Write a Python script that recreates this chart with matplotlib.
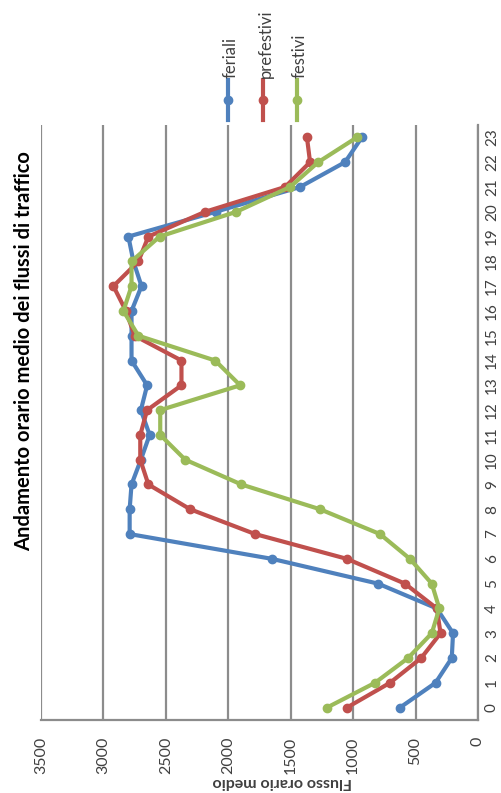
import matplotlib.pyplot as plt
from matplotlib.lines import Line2D

plt.rcParams['font.family'] = ['Lato', 'DejaVu Sans']

# hourly average flows
hours = list(range(24))
feriali = [625, 340, 210, 200, 330, 800, 1650, 2790, 2790, 2775, 2700, 2630,
           2700, 2650, 2775, 2775, 2775, 2695, 2760, 2800, 2100, 1425, 1065, 930]
prefestivi = [1050, 705, 455, 300, 330, 585, 1050, 1785, 2305, 2640, 2705, 2705,
              2650, 2375, 2375, 2750, 2820, 2920, 2720, 2640, 2185, 1545, 1345, 1370]
festivi = [1210, 825, 560, 370, 310, 370, 545, 785, 1265, 1895, 2345, 2545,
           2545, 1905, 2105, 2720, 2840, 2775, 2775, 2550, 1935, 1505, 1280, 970]
value_ticks = [0, 500, 1000, 1500, 2000, 2500, 3000, 3500]

series = [("feriali", feriali, "#4F81BD"),
          ("prefestivi", prefestivi, "#C0504D"),
          ("festivi", festivi, "#9BBB59")]

fig = plt.figure(figsize=(5.02, 7.93), dpi=100)
ax = fig.add_axes([41 / 502, 1 - 720 / 793, 437 / 502, 595 / 793])

# chart is drawn turned a quarter turn: values run right-to-left, hours bottom-to-top
for name, vals, col in series:
    ax.plot(vals, hours, color=col, lw=3, marker='o', ms=6, zorder=3)

ax.set_xlim(3500, 0)
ax.set_ylim(-0.5, 23.5)
ax.set_xticks(value_ticks)
ax.set_xticklabels([str(v) for v in value_ticks], rotation=90, va='top')
ax.set_yticks(hours)
ax.set_yticklabels([str(h) for h in hours], rotation=90, va='center')
ax.yaxis.tick_right()
ax.tick_params(axis='x', length=0, pad=12, labelsize=11.5, labelcolor='#404040')
ax.tick_params(axis='y', length=0, pad=5, labelsize=11, labelcolor='#404040')
ax.grid(axis='x', color='#8c8c8c', lw=1.6)
ax.set_axisbelow(True)
for s in ['top', 'left']:
    ax.spines[s].set_visible(False)
for s in ['bottom', 'right']:
    ax.spines[s].set_color('#8c8c8c')
    ax.spines[s].set_linewidth(1.6)

fig.text(282 / 502, 1 - 782 / 793, "Flusso orario medio", rotation=180,
         ha='center', va='center', fontsize=11.5, fontweight='bold', color='#404040')
fig.text(24 / 502, 1 - 351 / 793, "Andamento orario medio dei flussi di traffico",
         rotation=90, ha='center', va='center', fontsize=14.5, fontweight='bold')

# legend, also turned
leg_x = [228, 263, 297]
for (name, vals, col), lx in zip(series, leg_x):
    fig.add_artist(Line2D([lx / 502, lx / 502], [1 - 120 / 793, 1 - 80 / 793],
                          transform=fig.transFigure, color=col, lw=3))
    fig.add_artist(Line2D([lx / 502], [1 - 100 / 793], transform=fig.transFigure,
                          color=col, marker='o', ms=6))
    fig.text((lx + 3) / 502, 1 - 78 / 793, name, rotation=90, ha='center',
             va='bottom', fontsize=12, color='#404040')

fig.savefig("out.png", dpi=100)
